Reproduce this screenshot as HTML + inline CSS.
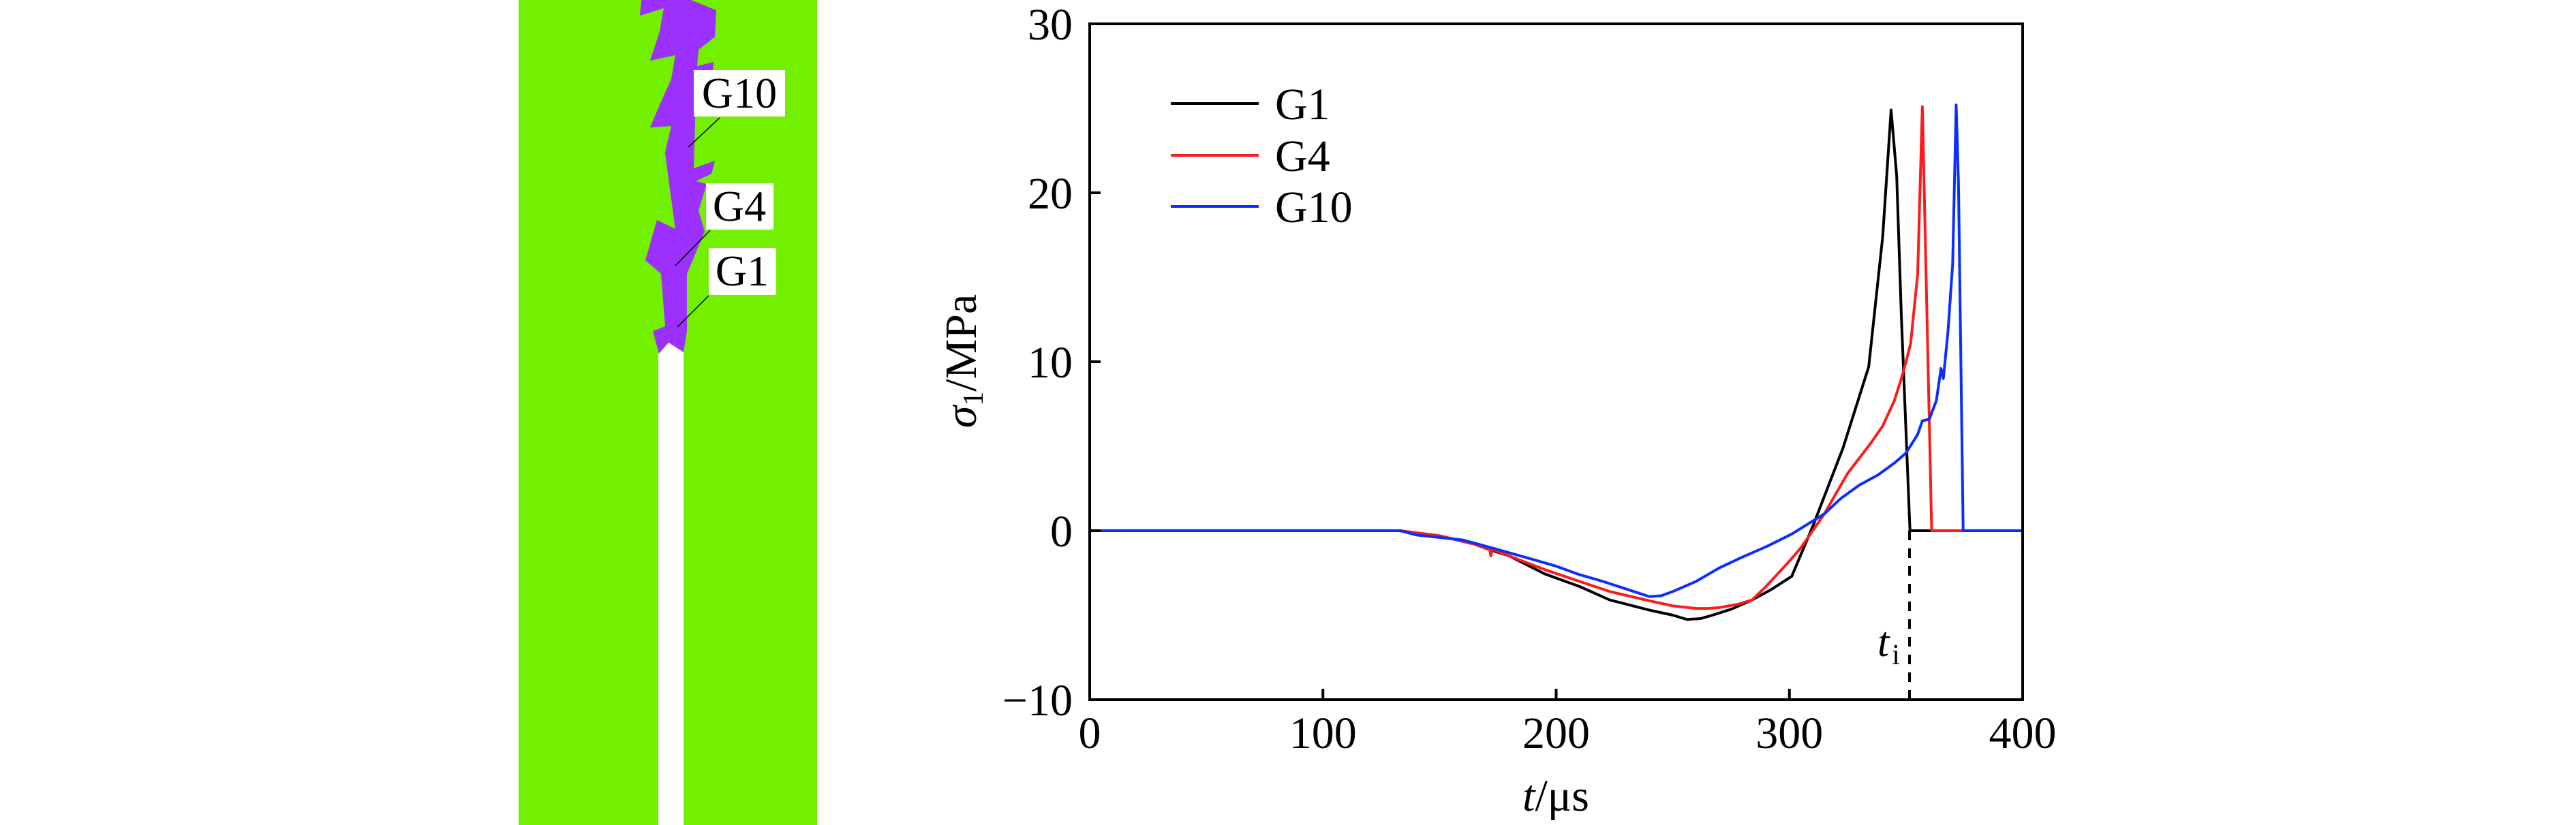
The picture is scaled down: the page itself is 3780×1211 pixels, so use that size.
<!DOCTYPE html>
<html><head><meta charset="utf-8"><style>
html,body{margin:0;padding:0;background:#fff;}
svg{display:block;}
text{font-family:"Liberation Serif",serif;fill:#000;}
</style></head><body>
<svg id="fig" width="3780" height="1211" viewBox="0 0 3780 1211" xmlns="http://www.w3.org/2000/svg">
  <g>
    <rect x="761" y="0" width="438" height="1211" fill="#72f000"/>
    <polygon fill="#9b30ff" points="945,0 1014,0 1051,15 1049,54 1025,73 1023,97 1047,91 1046,104 1021,104 1020,178 1018,247 1049,236 1044,255 1021,266 1037,270 1025,309 1034,340 1018,378 1008,402 1008,486 1003,517 981,503 967,519 958,486 976,479 970,402 947,382 964,323 991,336 981,263 976,224 985,185 954,187 968,154 985,116 991,81 954,89 968,46 974,12 939,23 941,0"/>
    <polygon fill="#fff" points="967,519 981,503 1003,517 1003,1211 966,1211 966,519"/>
    <line x1="1010" y1="216" x2="1056" y2="173" stroke="#000" stroke-width="1.5"/>
    <line x1="991" y1="390" x2="1042" y2="338" stroke="#000" stroke-width="1.5"/>
    <line x1="994" y1="480" x2="1040" y2="434" stroke="#000" stroke-width="1.5"/>
    <rect x="1018" y="103" width="134" height="68" fill="#fff"/>
    <text x="1085" y="158" font-size="64" text-anchor="middle">G10</text>
    <rect x="1036" y="269" width="99" height="68" fill="#fff"/>
    <text x="1085" y="324" font-size="64" text-anchor="middle">G4</text>
    <rect x="1040" y="364" width="99" height="69" fill="#fff"/>
    <text x="1089" y="419" font-size="64" text-anchor="middle">G1</text>
  </g>
  <g id="chart"></g>
</svg>
<script>
const xTicks=[0,100,200,300,400];
const yTicks=[-10,0,10,20,30];
const g1T=[0,133,150,165,172,180,195,210,223,240,250,256,262,267,275,284,292,301,310,323,334,340,343.6,346,348,351.7,400];
const g1V=[0,0,-0.3,-0.8,-1.15,-1.5,-2.55,-3.3,-4.1,-4.7,-5.0,-5.25,-5.2,-5.0,-4.65,-4.1,-3.5,-2.7,0.25,4.9,9.7,17.4,24.9,21,12.7,0,0];
const g4T=[0,133,150,165,171.5,172,172.5,180,195,210,223,240,250,260,265,270,278,284,290,300,305,310,315,320,325,330,335,340,345,348,350,352,355,357,358.5,361,400];
const g4V=[0,0,-0.3,-0.8,-1.1,-1.5,-1.1,-1.5,-2.3,-3.0,-3.6,-4.15,-4.45,-4.6,-4.6,-4.55,-4.35,-4.1,-3.3,-1.8,-1.0,0,1.0,2.2,3.4,4.3,5.2,6.2,7.7,9.0,10,11.1,15.2,25.1,15.8,0,0];
const g10T=[0,133,140,160,172,190,200,210,220,230,240,245,250,260,270,280,290,301,308,315,322,330,338,345,350,355,357,360,363,365,366,368,370,371.5,372.5,374.5,400];
const g10V=[0,0,-0.25,-0.55,-1.0,-1.7,-2.1,-2.6,-3.0,-3.45,-3.9,-3.85,-3.6,-3.0,-2.2,-1.55,-0.95,-0.2,0.4,1.0,1.9,2.7,3.3,4.0,4.6,5.7,6.5,6.6,7.7,9.6,9.0,11.8,15.8,25.2,20.5,0,0];
const tI=351.5;
const X0=1599,X1=2968,Y0=1027,Y1=35;
const sx=t=>X0+(t-0)/(400-0)*(X1-X0);
const sy=v=>Y0-(v-(-10))/(30-(-10))*(Y0-Y1);
const NS="http://www.w3.org/2000/svg";
const chart=document.getElementById('chart');
function mk(tag,attrs,parent){const e=document.createElementNS(NS,tag);for(const k in attrs)e.setAttribute(k,attrs[k]);(parent||chart).appendChild(e);return e;}
function series(T,V,color,name){
  const p=mk('polyline',{points:T.map((t,i)=>sx(t)+','+sy(V[i])).join(' '),fill:'none',stroke:color,'stroke-width':4,'stroke-linejoin':'round'});
  
  
}
series(g1T,g1V,'#000','series-g1');
series(g4T,g4V,'#ff1a1a','series-g4');
series(g10T,g10V,'#0a2eff','series-g10');
const d=mk('line',{x1:sx(tI),y1:sy(0),x2:sx(tI),y2:Y0,stroke:'#000','stroke-width':4,'stroke-dasharray':'14,12'});


const tl=mk('text',{x:2755,y:963,'font-size':62,'font-style':'italic'});


tl.textContent='t';
const ts=mk('tspan',{'font-size':42,'font-style':'normal',dy:12,dx:4},tl);ts.textContent='i';
const fr=mk('rect',{x:X0,y:Y1,width:X1-X0,height:Y0-Y1,fill:'none',stroke:'#000','stroke-width':4});


xTicks.forEach(t=>{
  const l=mk('line',{x1:sx(t),y1:Y0,x2:sx(t),y2:Y0-16,stroke:'#000','stroke-width':4});
  
  
  const tx=mk('text',{x:sx(t),y:1098,'font-size':66,'text-anchor':'middle'});
  
  
  tx.textContent=t;
});
yTicks.forEach(v=>{
  const l=mk('line',{x1:X0,y1:sy(v),x2:X0+16,y2:sy(v),stroke:'#000','stroke-width':4});
  
  
  const tx=mk('text',{x:1574,y:sy(v)+23,'font-size':66,'text-anchor':'end'});
  
  
  tx.textContent=v<0?'\u221210':v;
});
const xl=mk('text',{x:2283,y:1190,'font-size':66,'text-anchor':'middle'});


const xi=mk('tspan',{'font-style':'italic'},xl);xi.textContent='t';
const xr=mk('tspan',{},xl);xr.textContent='/\u03bcs';
const yl=mk('text',{x:0,y:0,'font-size':66,'text-anchor':'middle',transform:'translate(1432,530) rotate(-90)'});


const ys=mk('tspan',{'font-style':'italic'},yl);ys.textContent='\u03c3';
const y1=mk('tspan',{'font-size':42,dy:10},yl);y1.textContent='1';
const y2=mk('tspan',{dy:-10},yl);y2.textContent='/MPa';
const legNames=['G1','G4','G10'],legColors=['#000','#ff1a1a','#0a2eff'],legY=[152,228,303];
legNames.forEach((n,i)=>{
  const l=mk('line',{x1:1718,y1:legY[i],x2:1847,y2:legY[i],stroke:legColors[i],'stroke-width':4});
  
  
  const t=mk('text',{x:1871,y:legY[i]+23,'font-size':66});
  
  
  t.textContent=n;
});
</script>
</body></html>
